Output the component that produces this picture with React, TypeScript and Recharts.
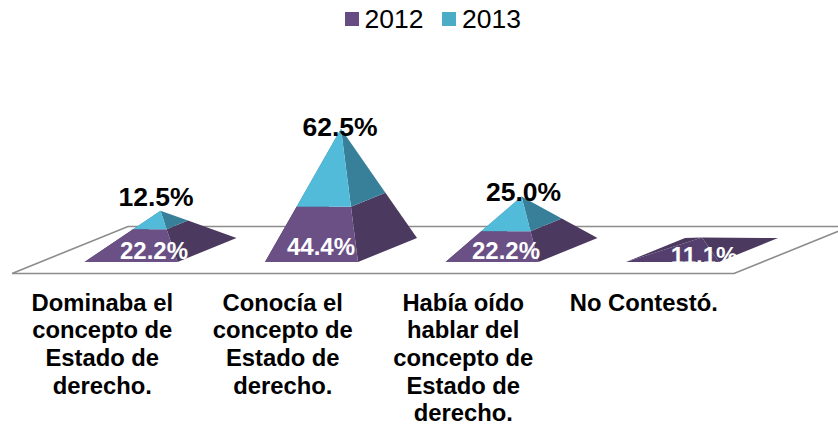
import { BarChart, Bar, XAxis, YAxis, Legend, LabelList, usePlotArea } from "recharts";

const categories = [
  "Dominaba el concepto de Estado de derecho.",
  "Conocía el concepto de Estado de derecho.",
  "Había oído hablar del concepto de Estado de derecho.",
  "No Contestó.",
];
const values2012 = [22.2, 44.4, 22.2, 11.1];
const values2013 = [12.5, 62.5, 25.0, null];

const tickLines = [
  ["Dominaba el", "concepto de", "Estado de", "derecho."],
  ["Conocía el", "concepto de", "Estado de", "derecho."],
  ["Había oído", "hablar del", "concepto de", "Estado de", "derecho."],
  ["No Contestó."],
];

const data = categories.map((name, i) => ({
  name,
  y2012: values2012[i],
  y2013: values2013[i],
}));

const FONT = "'Liberation Sans', Arial, sans-serif";
const DEPTH_X = 29.5;
const DEPTH_Y = 12;
const FLOOR_X = 58;
const FLOOR_Y = 23.5;
const LEGEND_H = 38;

const labelNudge2012 = [
  [-6.5, 0],
  [-20, -4],
  [-15.5, 0],
  [2, 5],
];
const labelNudge2013 = [
  [-4.5, -14],
  [-1, -2],
  [2, -5],
];

const pts = (list: number[][]) => list.map((p) => p.join(",")).join(" ");
const lerp = (a: number[], b: number[], t: number) => [
  a[0] + (b[0] - a[0]) * t,
  a[1] + (b[1] - a[1]) * t,
];

// one stacked segment of the pyramid, cut between two heights
const pyramidSegment = (props: any, key: "y2012" | "y2013", colors: string[]) => {
  const { x, y, width, height, payload } = props;
  const value = payload[key];
  if (value == null || !height) return <g />;
  const unit = height / value;
  const below = key === "y2013" ? payload.y2012 : 0;
  const total = payload.y2012 + (payload.y2013 || 0);
  const cx = x + width / 2;
  const baseY = y + height + below * unit;
  const half = width / 2;
  const apex = [cx, baseY - total * unit];
  const fl = [cx - DEPTH_X - half, baseY + DEPTH_Y];
  const fr = [cx - DEPTH_X + half, baseY + DEPTH_Y];
  const br = [cx + DEPTH_X + half, baseY - DEPTH_Y];
  const bl = [cx + DEPTH_X - half, baseY - DEPTH_Y];
  const t0 = below / total;
  const t1 = (below + value) / total;
  const face = (a: number[], b: number[]) =>
    pts([lerp(a, apex, t0), lerp(b, apex, t0), lerp(b, apex, t1), lerp(a, apex, t1)]);
  // the flat pyramid with no 2013 part catches less light on its front
  const front = payload.y2013 == null ? "#543f6e" : colors[0];
  return (
    <g>
      <polygon points={face(fl, bl)} fill={colors[1]} />
      <polygon points={face(fr, br)} fill={colors[1]} />
      <polygon points={face(fl, fr)} fill={front} />
    </g>
  );
};

const Floor = () => {
  const plot = usePlotArea();
  if (!plot) return null;
  const left = plot.x;
  const right = plot.x + plot.width;
  const mid = plot.y + plot.height;
  return (
    <polyline
      points={pts([
        [left - FLOOR_X, mid + FLOOR_Y],
        [right - FLOOR_X, mid + FLOOR_Y],
        [right + FLOOR_X, mid - FLOOR_Y],
        [left + FLOOR_X, mid - FLOOR_Y],
        [left - FLOOR_X, mid + FLOOR_Y],
      ])}
      fill="none"
      stroke="#8c8c8c"
      strokeWidth={1.6}
    />
  );
};

const CategoryTick = (props: any) => {
  const { x, y, index } = props;
  return (
    <text textAnchor="middle" fontFamily={FONT} fontSize={23.8} fontWeight="bold" fill="#000">
      {tickLines[index].map((line, i) => (
        <tspan key={i} x={x - FLOOR_X} y={y + 54.5 + i * 27.7}>
          {line}
        </tspan>
      ))}
    </text>
  );
};

const makeLabel = (nudge: number[][], color: string, size: number, base: boolean) => (props: any) => {
  const { x, y, width, height, value, index } = props;
  if (value == null) return null;
  const [dx, dy] = nudge[index];
  const anchorY = base ? y + height : y;
  return (
    <text
      x={x + width / 2 + dx}
      y={anchorY + dy}
      textAnchor="middle"
      dominantBaseline="central"
      fontFamily={FONT}
      fontSize={size}
      fontWeight="bold"
      fill={color}
    >
      {Number(value).toFixed(1)}%
    </text>
  );
};

const LegendRow = (props: any) => (
  <div
    style={{
      display: "flex",
      alignItems: "center",
      height: LEGEND_H,
      paddingLeft: 345,
      fontFamily: FONT,
      fontSize: 26.5,
      color: "#000",
    }}
  >
    {props.payload.map((entry: any) => (
      <div key={entry.value} style={{ display: "flex", alignItems: "center", marginRight: 19 }}>
        <div style={{ width: 14, height: 14, background: entry.color, marginRight: 5.5 }} />
        <span>{entry.value}</span>
      </div>
    ))}
  </div>
);

export default function App() {
  return (
    <div style={{ position: "absolute", left: 0, top: 0, width: 838, height: 424, background: "#fff" }}>
      <BarChart
        width={838}
        height={424}
        data={data}
        barSize={93}
        margin={{ top: 114 - LEGEND_H, right: 46, bottom: 0, left: 70 }}
      >
        <Floor />
        <XAxis
          dataKey="name"
          height={174}
          axisLine={false}
          tickLine={false}
          interval={0}
          tick={CategoryTick}
          tickMargin={0}
        />
        <YAxis hide domain={[0, 120]} />
        <Legend
          verticalAlign="top"
          align="left"
          wrapperStyle={{ top: 0, left: 0, width: 838 }}
          content={LegendRow}
        />
        <Bar
          dataKey="y2012"
          name="2012"
          stackId="a"
          fill="#664c82"
          isAnimationActive={false}
          shape={(p: any) => pyramidSegment(p, "y2012", ["#6a5085", "#4c395f"])}
        >
          <LabelList dataKey="y2012" content={makeLabel(labelNudge2012, "#fff", 24, true)} />
        </Bar>
        <Bar
          dataKey="y2013"
          name="2013"
          stackId="a"
          fill="#4bacc6"
          isAnimationActive={false}
          shape={(p: any) => pyramidSegment(p, "y2013", ["#52bbd9", "#38809a"])}
        >
          <LabelList dataKey="y2013" content={makeLabel(labelNudge2013, "#000", 26.5, false)} />
        </Bar>
      </BarChart>
    </div>
  );
}
